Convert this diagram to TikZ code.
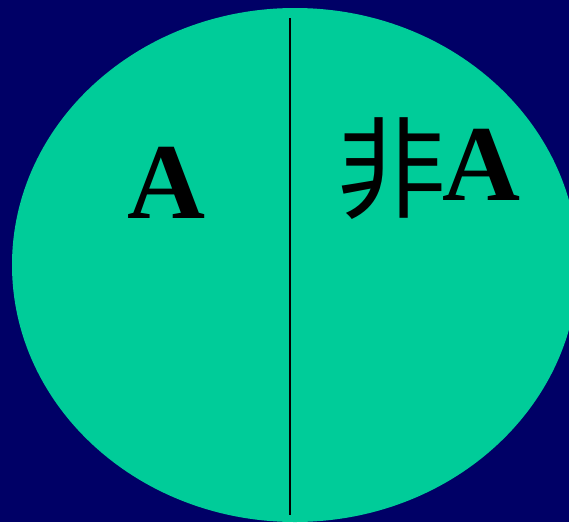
\documentclass[tikz,border=0pt]{standalone}
\usepackage{fontspec}
\setmainfont{Liberation Serif}
\newfontfamily\cjk{Noto Sans CJK TC}
\definecolor{navy}{HTML}{000066}
\definecolor{seagreen}{HTML}{00CC99}

\begin{document}
\begin{tikzpicture}[x=1pt,y=-1pt,
        lbl/.style={inner sep=0pt,font=\fontsize{108}{108}\selectfont\bfseries}]

    % Background
    \fill[navy] (0,0) rectangle (569,522);
    \useasboundingbox (0,0) rectangle (569,522);

    % Sample space
    \fill[seagreen] (295,265) ellipse [x radius=283, y radius=257];

    % Dividing line
    \coordinate (top) at (290,18);
    \coordinate (bot) at (290,515);
    \draw[line width=2.2pt] (top) -- (bot);

    % Labels
    \node[lbl,anchor=base] (a) at (166,218) {A};
    \node[lbl,anchor=base] (nota) at (481,200) {A};
    \node[inner sep=0pt,font=\fontsize{110}{110}\selectfont\cjk] (fei) at (391,169) {非};
\end{tikzpicture}
\end{document}
